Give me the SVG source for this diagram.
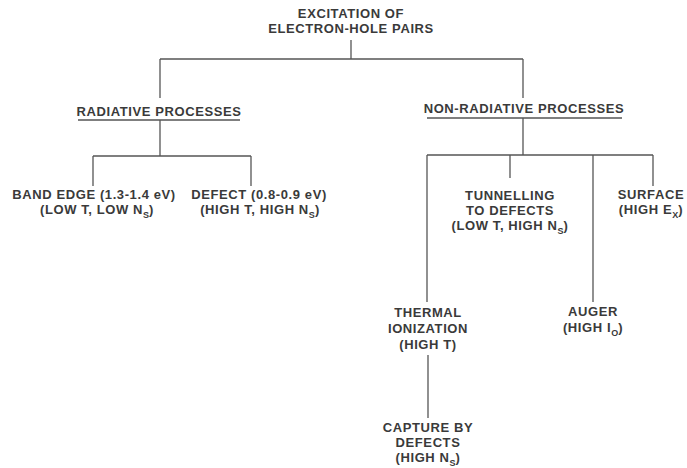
<svg xmlns="http://www.w3.org/2000/svg" width="687" height="468" viewBox="0 0 687 468">
<style>
text{font-family:"Liberation Sans",Arial,sans-serif;font-size:13px;letter-spacing:0.6px;font-weight:bold;fill:#3a3a3a;text-anchor:middle}
.sub{font-size:9px;letter-spacing:0}
.c line{stroke:#555;stroke-width:1.3}
</style>
<rect width="687" height="468" fill="#fff"/>
<g class="c" id="connectors">
<line x1="351" y1="40" x2="351" y2="59"/>
<line x1="160" y1="59" x2="523" y2="59"/>
<line x1="160" y1="59" x2="160" y2="98"/>
<line x1="523" y1="59" x2="523" y2="98"/>
<line x1="78" y1="120" x2="240" y2="120"/>
<line x1="427" y1="118" x2="622" y2="118"/>
<line x1="160" y1="120" x2="160" y2="156"/>
<line x1="93" y1="156" x2="251" y2="156"/>
<line x1="93" y1="156" x2="93" y2="186"/>
<line x1="251" y1="156" x2="251" y2="186"/>
<line x1="523" y1="118" x2="523" y2="155"/>
<line x1="427" y1="155" x2="653" y2="155"/>
<line x1="427" y1="155" x2="427" y2="302"/>
<line x1="510" y1="155" x2="510" y2="178"/>
<line x1="593" y1="155" x2="593" y2="302"/>
<line x1="653" y1="155" x2="653" y2="186"/>
<line x1="428" y1="355" x2="428" y2="418"/>
</g>
<g id="root"><text x="351" y="18">EXCITATION OF</text><text x="351" y="33">ELECTRON-HOLE PAIRS</text></g>
<g id="radiative"><text x="159" y="116">RADIATIVE PROCESSES</text></g>
<g id="nonradiative"><text x="524" y="113">NON-RADIATIVE PROCESSES</text></g>
<g id="bandedge"><text x="94" y="199">BAND EDGE (1.3-1.4 eV)</text><text x="97" y="214">(LOW T, LOW N<tspan class="sub" dy="3.5">S</tspan><tspan dy="-3.5">)</tspan></text></g>
<g id="defect"><text x="259" y="199">DEFECT (0.8-0.9 eV)</text><text x="260" y="214">(HIGH T, HIGH N<tspan class="sub" dy="3.5">S</tspan><tspan dy="-3.5">)</tspan></text></g>
<g id="tunnelling"><text x="510" y="200">TUNNELLING</text><text x="510" y="215">TO DEFECTS</text><text x="510" y="230">(LOW T, HIGH N<tspan class="sub" dy="3.5">S</tspan><tspan dy="-3.5">)</tspan></text></g>
<g id="surface"><text x="651" y="199">SURFACE</text><text x="651" y="214">(HIGH E<tspan class="sub" dy="3.5">X</tspan><tspan dy="-3.5">)</tspan></text></g>
<g id="thermal"><text x="428" y="317">THERMAL</text><text x="428" y="333">IONIZATION</text><text x="428" y="349">(HIGH  T)</text></g>
<g id="auger"><text x="593" y="316">AUGER</text><text x="593" y="332">(HIGH I<tspan class="sub" dy="3.5">O</tspan><tspan dy="-3.5">)</tspan></text></g>
<g id="capture"><text x="428" y="432">CAPTURE BY</text><text x="428" y="447">DEFECTS</text><text x="428" y="462">(HIGH N<tspan class="sub" dy="3.5">S</tspan><tspan dy="-3.5">)</tspan></text></g>
</svg>
